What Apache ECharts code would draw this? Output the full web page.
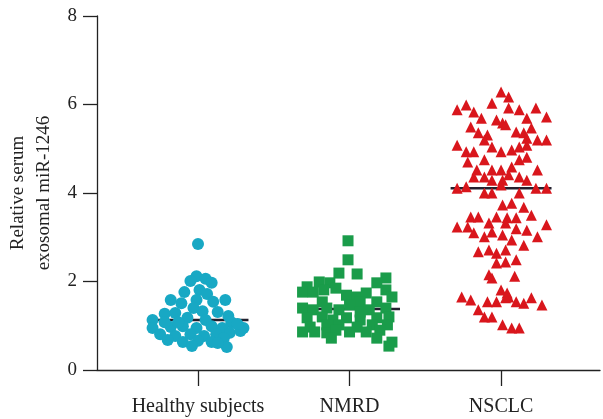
<!DOCTYPE html>
<html>
<head>
<meta charset="utf-8">
<script src="https://cdn.jsdelivr.net/npm/echarts@6/dist/echarts.min.js"></script>
<style>html,body{margin:0;padding:0;background:#fff}#c{width:603px;height:419px}</style>
</head>
<body>
<div id="c"></div>
<script>
const categories = ['Healthy subjects', 'NMRD', 'NSCLC'];
const yTicks = [0, 2, 4, 6, 8];
const means = [1.13, 1.38, 4.11];
// [offset within category, value]
const healthy = [[0.00,2.85],[-0.01,2.12],[-0.05,2.01],[0.05,2.06],[0.09,1.97],[-0.09,1.76],[0.01,1.81],[0.06,1.72],[-0.18,1.58],[-0.11,1.51],[-0.01,1.58],[0.10,1.54],[0.18,1.58],[-0.03,1.40],[0.03,1.33],[-0.22,1.27],[-0.15,1.29],[0.13,1.31],[0.20,1.22],[-0.30,1.13],[-0.07,1.18],[0.05,1.13],[0.22,1.08],[0.30,0.95],[-0.30,0.95],[-0.18,0.97],[-0.10,0.99],[-0.01,0.95],[0.09,0.99],[0.16,0.95],[-0.25,0.81],[-0.15,0.77],[-0.05,0.81],[0.04,0.77],[0.12,0.81],[0.21,0.84],[-0.20,0.68],[-0.10,0.63],[0.00,0.66],[0.09,0.63],[0.17,0.72],[0.28,0.88],[0.19,0.52],[0.13,0.61],[-0.04,0.54],[-0.13,1.08],[-0.22,1.08],[0.26,1.04]];
const nmrd = [[-0.01,2.92],[-0.01,2.49],[-0.07,2.19],[0.05,2.17],[-0.20,1.99],[-0.28,1.88],[-0.13,1.97],[0.24,2.08],[0.18,1.97],[-0.31,1.76],[-0.24,1.76],[-0.17,1.81],[-0.09,1.85],[-0.02,1.69],[0.05,1.65],[0.11,1.74],[0.24,1.81],[0.28,1.65],[-0.18,1.54],[0.07,1.54],[0.18,1.54],[-0.31,1.40],[-0.24,1.36],[-0.15,1.40],[-0.07,1.36],[0.00,1.47],[0.07,1.31],[0.13,1.36],[0.24,1.40],[-0.28,1.18],[-0.18,1.20],[-0.11,1.13],[-0.02,1.18],[0.07,1.13],[0.18,1.18],[0.26,1.20],[-0.26,0.97],[-0.15,1.02],[-0.07,1.02],[0.05,0.97],[0.15,1.02],[0.25,1.02],[-0.31,0.86],[-0.23,0.86],[-0.15,0.84],[-0.09,0.90],[0.00,0.86],[0.11,0.86],[0.20,0.90],[-0.12,0.72],[0.18,0.72],[0.28,0.63],[0.26,0.54]];
const nsclc = [[0.00,6.28],[0.05,6.17],[-0.29,5.88],[-0.23,5.99],[-0.18,5.83],[-0.06,6.03],[0.05,5.92],[0.12,5.88],[0.23,5.92],[-0.13,5.69],[-0.03,5.65],[0.01,5.58],[0.17,5.69],[0.30,5.72],[-0.20,5.49],[0.03,5.54],[0.20,5.47],[-0.15,5.36],[-0.09,5.31],[0.10,5.38],[0.15,5.36],[-0.11,5.20],[0.17,5.24],[0.24,5.20],[0.30,5.20],[-0.29,5.08],[-0.06,5.04],[0.12,5.04],[0.17,5.08],[-0.23,4.93],[-0.18,4.93],[0.00,4.93],[0.07,4.97],[-0.11,4.75],[0.12,4.75],[0.17,4.81],[-0.22,4.70],[-0.16,4.52],[-0.06,4.52],[0.00,4.52],[0.07,4.59],[0.24,4.52],[-0.18,4.36],[-0.11,4.36],[0.05,4.41],[0.12,4.36],[-0.06,4.29],[0.01,4.29],[0.17,4.29],[-0.29,4.11],[-0.23,4.14],[0.00,4.18],[0.23,4.11],[0.30,4.11],[-0.11,4.00],[-0.06,4.00],[0.12,4.00],[0.01,3.73],[0.07,3.77],[0.15,3.68],[-0.20,3.46],[-0.15,3.46],[-0.03,3.46],[0.04,3.44],[0.10,3.44],[0.20,3.50],[-0.29,3.23],[-0.22,3.23],[-0.08,3.32],[0.03,3.32],[0.10,3.19],[0.30,3.28],[-0.18,3.10],[-0.11,3.01],[-0.06,3.12],[0.01,3.05],[0.07,2.94],[0.17,3.16],[0.24,3.01],[-0.15,2.67],[-0.08,2.71],[-0.03,2.64],[0.03,2.71],[0.15,2.82],[-0.03,2.42],[0.03,2.44],[0.10,2.49],[-0.08,2.15],[-0.06,2.08],[0.09,2.12],[0.00,1.81],[0.04,1.74],[0.05,1.65],[-0.26,1.65],[-0.20,1.58],[-0.09,1.54],[-0.03,1.54],[0.03,1.63],[0.10,1.54],[0.15,1.51],[0.20,1.63],[0.27,1.47],[-0.15,1.36],[-0.11,1.20],[-0.06,1.20],[0.01,1.02],[0.07,0.95],[0.12,0.95]];
const groups = [healthy, nmrd, nsclc];
const colors = ['#18a8c4', '#1a9c4a', '#d9161c'];
const symbols = ['circle', 'rect', 'triangle'];
const sizes = [12, 11, 11];
const halfWidth = 0.333;
const serif = '"Liberation Serif", "DejaVu Serif", serif';

const series = [];
means.forEach((m, i) => {
  series.push({
    type: 'line', silent: true, symbol: 'none',
    data: [[i + 1 - halfWidth, m], [i + 1 + halfWidth, m]],
    lineStyle: { color: '#23202e', width: 2.5 }, z: 1
  });
});
groups.forEach((g, i) => {
  series.push({
    type: 'scatter', symbol: symbols[i], symbolSize: sizes[i],
    data: g.map(p => [i + 1 + p[0], p[1]]),
    itemStyle: { color: colors[i], opacity: 1 }, z: 2
  });
});

const chart = echarts.init(document.getElementById('c'));
chart.setOption({
  animation: false,
  grid: { left: 97, right: 3, top: 16, bottom: 49, containLabel: false, outerBoundsMode: 'none' },
  xAxis: {
    type: 'value', min: 1 / 3, max: 3.653,
    axisLine: { show: true, onZero: false, lineStyle: { color: '#222', width: 1.3 } },
    axisTick: { show: true, customValues: [1, 2, 3], length: 16, lineStyle: { color: '#222', width: 1.3 } },
    axisLabel: { customValues: [1, 2, 3], formatter: v => categories[Math.round(v) - 1], margin: 27, color: '#222', fontFamily: serif, fontSize: 20 },
    splitLine: { show: false }
  },
  yAxis: {
    type: 'value', min: yTicks[0], max: yTicks[yTicks.length - 1], interval: 2,
    name: 'Relative serum\nexosomal miR-1246', nameLocation: 'middle', nameGap: 39,
    nameTextStyle: { fontFamily: serif, fontSize: 19, color: '#222', lineHeight: 26 },
    axisLine: { show: true, lineStyle: { color: '#222', width: 1.3 } },
    axisTick: { show: true, length: 14, lineStyle: { color: '#222', width: 1.3 } },
    axisLabel: { margin: 20, color: '#222', fontFamily: serif, fontSize: 19 },
    splitLine: { show: false }
  },
  series: series
});
</script>
</body>
</html>
